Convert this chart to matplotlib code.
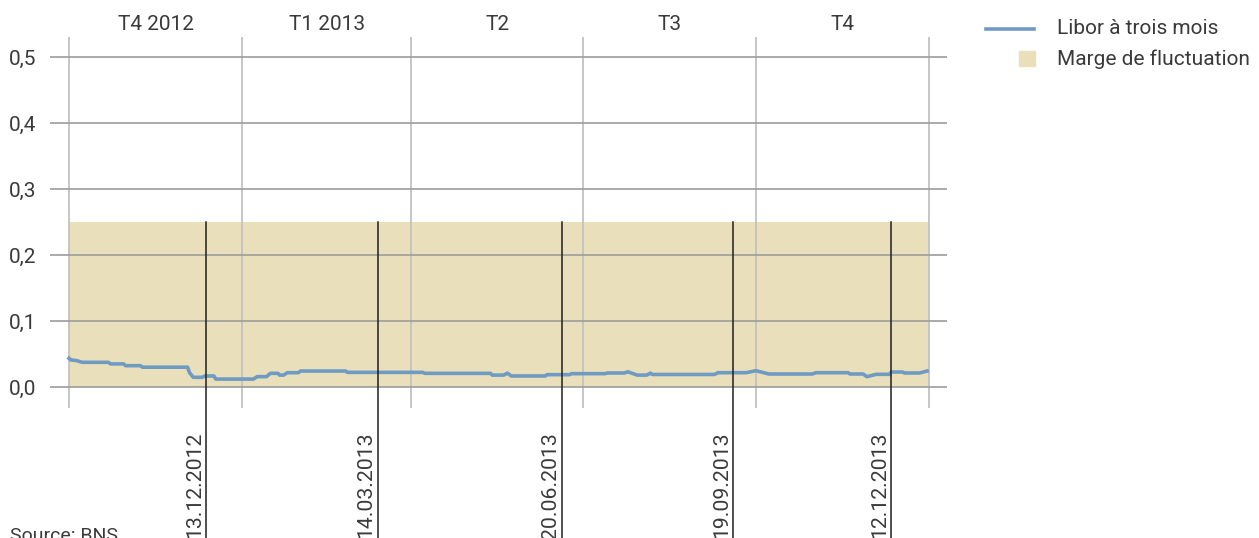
import numpy as np
import pandas as pd
import matplotlib
matplotlib.use('Agg')
import matplotlib.pyplot as plt
from matplotlib.lines import Line2D
from matplotlib.patches import Rectangle

plt.rcParams['font.family'] = ['Roboto', 'DejaVu Sans']

# Libor à trois mois
libor_dates = ['2012-10-01', '2012-10-02', '2012-10-05', '2012-10-08', '2012-10-22', '2012-10-23',
               '2012-10-30', '2012-10-31', '2012-11-08', '2012-11-09', '2012-12-03', '2012-12-04',
               '2012-12-06', '2012-12-11', '2012-12-12', '2012-12-17', '2012-12-18', '2013-01-07',
               '2013-01-09', '2013-01-14', '2013-01-16', '2013-01-20', '2013-01-21', '2013-01-23',
               '2013-01-25', '2013-01-31', '2013-02-01', '2013-02-25', '2013-02-26', '2013-04-07',
               '2013-04-08', '2013-05-13', '2013-05-14', '2013-05-20', '2013-05-22', '2013-05-24',
               '2013-06-11', '2013-06-12', '2013-06-24', '2013-06-25', '2013-07-13', '2013-07-14',
               '2013-07-23', '2013-07-25', '2013-07-30', '2013-08-04', '2013-08-06', '2013-08-07',
               '2013-09-09', '2013-09-11', '2013-09-26', '2013-10-01', '2013-10-08', '2013-10-31',
               '2013-11-02', '2013-11-19', '2013-11-20', '2013-11-27', '2013-11-29', '2013-12-04',
               '2013-12-11', '2013-12-12', '2013-12-18', '2013-12-19', '2013-12-27', '2013-12-31']
libor_values = [0.0435, 0.041, 0.040, 0.0374, 0.0374, 0.035,
                0.035, 0.0323, 0.0323, 0.030, 0.030, 0.022,
                0.0147, 0.0147, 0.0167, 0.0167, 0.012, 0.012,
                0.0157, 0.0157, 0.0207, 0.0207, 0.018, 0.018,
                0.0217, 0.0217, 0.0242, 0.0242, 0.0222, 0.0222,
                0.0207, 0.0207, 0.018, 0.018, 0.021, 0.0167,
                0.0167, 0.0187, 0.0187, 0.0202, 0.0202, 0.0212,
                0.0212, 0.023, 0.018, 0.018, 0.021, 0.019,
                0.019, 0.0217, 0.0217, 0.0247, 0.0197, 0.0197,
                0.0217, 0.0217, 0.0197, 0.0197, 0.0157, 0.0192,
                0.0192, 0.0227, 0.0227, 0.0212, 0.0212, 0.0242]

# Marge de fluctuation
band_start = '2012-10-01'
band_end = '2014-01-01'
band_low = 0.0
band_high = 0.25

quarter_edges = ['2012-10-01', '2013-01-01', '2013-04-01', '2013-07-01', '2013-10-01', '2014-01-01']
quarter_labels = ['T4 2012', 'T1 2013', 'T2', 'T3', 'T4']

event_dates = ['2012-12-13', '2013-03-14', '2013-06-20', '2013-09-19', '2013-12-12']
event_labels = ['13.12.2012', '14.03.2013', '20.06.2013', '19.09.2013', '12.12.2013']

yticks = [0.0, 0.1, 0.2, 0.3, 0.4, 0.5]

W, H = 1259, 538
fig = plt.figure(figsize=(W / 100, H / 100), dpi=100)

def fx(px):
    return px / W

def fy(py):
    return 1 - py / H

ax = fig.add_axes([fx(50), fy(408), fx(947) - fx(50), fy(37) - fy(408)])

dates = pd.to_datetime(libor_dates)
qe = pd.to_datetime(quarter_edges)
ev = pd.to_datetime(event_dates)

band_color = '#e9e0bb'
line_color = '#6f9bc3'
text_color = '#3a3a3a'

ax.fill_between(pd.to_datetime([band_start, band_end]), band_low, band_high,
                color=band_color, lw=0, zorder=1)

for d in qe:
    ax.axvline(d, color='#c2c2c2', lw=1.3, zorder=2)

ax.plot(dates, libor_values, color=line_color, lw=2.6, zorder=4)

# event lines, running from the top of the band down past the axes
ybottom = -0.235
for d, lab in zip(ev, event_labels):
    ax.plot([d, d], [band_high, ybottom], color='#1e1e1e', lw=1.1, zorder=5, clip_on=False)
    ax.text(d - pd.Timedelta(days=1.2), -0.068, lab, rotation=90, ha='right', va='top',
            fontsize=15.3, color=text_color)

for i, lab in enumerate(quarter_labels):
    mid = qe[i] + (qe[i + 1] - qe[i]) / 2
    ax.text(mid, 1.033, lab, transform=ax.get_xaxis_transform(), ha='center', va='center',
            fontsize=15, color=text_color)

ax.set_xlim(pd.Timestamp('2012-10-01') - pd.Timedelta(days=10.1),
            pd.Timestamp('2014-01-01') + pd.Timedelta(days=9.6))
ax.set_ylim(-21 / 660, 0.5 + 20 / 660)
ax.set_yticks(yticks)
ax.set_yticklabels([f'{v:.1f}'.replace('.', ',') for v in yticks], fontsize=15,
                   color=text_color)
ax.tick_params(axis='y', length=0, pad=10)
ax.set_xticks([])
ax.yaxis.grid(True, color='#9c9c9c', lw=1.2, zorder=3)
ax.set_axisbelow(False)
for s in ax.spines.values():
    s.set_visible(False)
ax.patch.set_alpha(0)

# legend
fig.add_artist(Line2D([fx(986), fx(1034)], [fy(29), fy(29)], color=line_color, lw=2.6,
                      transform=fig.transFigure))
fig.add_artist(Rectangle((fx(1019), fy(66)), fx(16), 15 / H, color=band_color,
                         transform=fig.transFigure))
fig.text(fx(1057), fy(29), 'Libor à trois mois', ha='left', va='center', fontsize=15,
         color=text_color)
fig.text(fx(1057), fy(59), 'Marge de fluctuation', ha='left', va='center', fontsize=15,
         color=text_color)

fig.text(fx(10), fy(527), 'Source: BNS', ha='left', va='top', fontsize=14,
         color=text_color)

fig.savefig('out.png', dpi=100)
